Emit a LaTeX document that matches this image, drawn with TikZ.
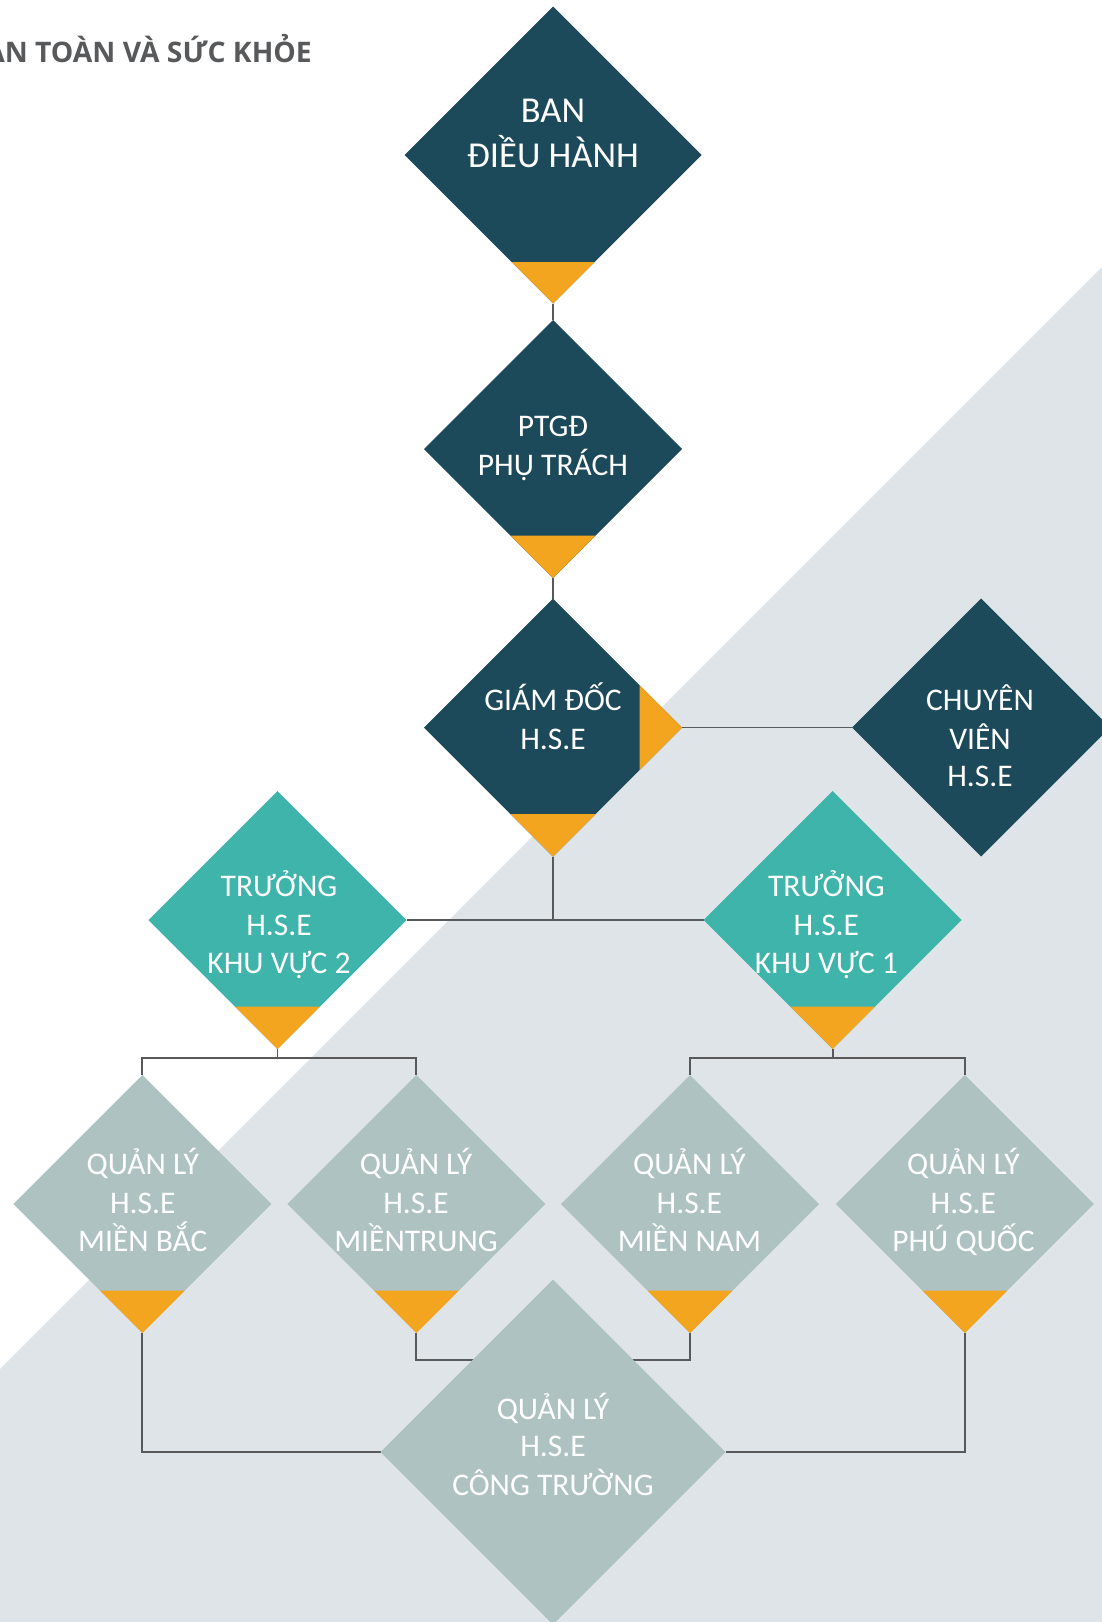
\documentclass[tikz,border=0pt]{standalone}
\usepackage{fontspec}
\setmainfont{Carlito}
\newfontfamily\ttlfont{Open Sans}
\usetikzlibrary{shapes.geometric,calc,backgrounds}
\definecolor{dkc}{HTML}{1D4A5A}
\definecolor{tlc}{HTML}{3EB4AA}
\definecolor{grc}{HTML}{ADC2C1}
\definecolor{orc}{HTML}{F3A520}
\definecolor{bgc}{HTML}{DFE4E8}
\definecolor{lnc}{HTML}{58595B}
\definecolor{tic}{HTML}{58595B}
\newcommand\orgbot[2]{\fill[orc] (#1.south) -- ++(-#2,-#2) -- ++(2*#2,0) -- cycle;}
\begin{document}
\begin{tikzpicture}[x=1pt,y=-1pt,
  dmd/.style={diamond, aspect=1, inner sep=0pt, outer sep=0pt, minimum size=#1},
  dmd/.default=258,
  ln/.style={draw=lnc, line width=1.9pt},
  lb/.style={text=white, anchor=base, inner sep=0pt, font=\fontsize{31.5}{31.5}\selectfont},
  lbb/.style={lb, font=\fontsize{36.5}{36.5}\selectfont}]
\useasboundingbox (0,0) rectangle (1102,1622);
\clip (0,0) rectangle (1102,1622);

% title
\node[anchor=base east, text=tic, inner sep=0pt, font=\ttlfont\bfseries\fontsize{28.3}{28.3}\selectfont] (title) at (312,62) {AN TOÀN VÀ SỨC KHỎE};

% diamonds
\node[dmd=297, fill=dkc] (ban) at (553,155) {};
\node[dmd, fill=dkc] (ptgd) at (553,449) {};
\node[dmd, fill=dkc] (gd) at (553,727.5) {};
\node[dmd, fill=dkc] (cv) at (981,727.5) {};
\node[dmd, fill=tlc] (kv2) at (277.5,920) {};
\node[dmd, fill=tlc] (kv1) at (832.7,920) {};
\node[dmd, fill=grc] (mb) at (142.3,1204) {};
\node[dmd, fill=grc] (mt) at (416.3,1204) {};
\node[dmd, fill=grc] (mn) at (690,1204) {};
\node[dmd, fill=grc] (pq) at (964.8,1204) {};
\node[dmd=345, fill=grc] (ct) at (553,1452) {};

% orange tips
\orgbot{ban}{41.5}
\orgbot{ptgd}{42.5}
\orgbot{gd}{42.5}
\fill[orc] (gd.east) -- ++(-42.5,-42.5) -- ++(0,85) -- cycle;
\orgbot{kv2}{42.5}
\orgbot{kv1}{42.5}
\orgbot{mb}{42.5}
\orgbot{mt}{42.5}
\orgbot{mn}{42.5}
\orgbot{pq}{42.5}

% background and connectors
\begin{pgfonlayer}{background}
\fill[bgc] (1102,267) -- (1102,1622) -- (0,1622) -- (0,1369) -- cycle;
\draw[ln] (ban.south) -- (ptgd.north);
\draw[ln] (ptgd.south) -- (gd.north);
\draw[ln] (gd.east) -- (cv.west);
\draw[ln] (kv2.east) -- (kv1.west);
\draw[ln] (gd.south) -- (gd.south |- kv2.east);
\coordinate (b2) at ($(kv2.south)+(0,8.7)$);
\coordinate (b1) at ($(kv1.south)+(0,8.7)$);
\coordinate (b3) at ($(mt.south)+(0,27)$);
\draw[ln] (kv2.south) -- (b2);
\draw[ln] (mb.north) |- (b2 -| mt.north) -- (mt.north);
\draw[ln] (kv1.south) -- (b1);
\draw[ln] (mn.north) |- (b1 -| pq.north) -- (pq.north);
\draw[ln] (mt.south) |- (b3 -| mn.south) -- (mn.south);
\draw[ln] (mb.south) |- (ct.west);
\draw[ln] (pq.south) |- (ct.east);
\end{pgfonlayer}

% labels
\node[lbb] (t1a) at (553,122) {BAN};
\node[lbb] (t1b) at (553,167) {ĐIỀU HÀNH};
\node[lb] (t2a) at (553,436) {PTGĐ};
\node[lb] (t2b) at (553,475) {PHỤ TRÁCH};
\node[lb] (t3a) at (553,710.7) {GIÁM ĐỐC};
\node[lb] (t3b) at (553,749.3) {H.S.E};
\node[lb] (t4a) at (980,710) {CHUYÊN};
\node[lb] (t4b) at (980,749.3) {VIÊN};
\node[lb] (t4c) at (980,786.7) {H.S.E};
\node[lb] (t5a) at (279,896.5) {TRƯỞNG};
\node[lb] (t5b) at (279,935.5) {H.S.E};
\node[lb] (t5c) at (279,973.3) {KHU VỰC 2};
\node[lb] (t6a) at (826.4,896.5) {TRƯỞNG};
\node[lb] (t6b) at (826.4,935.5) {H.S.E};
\node[lb] (t6c) at (826.4,973.3) {KHU VỰC 1};
\node[lb] (t7a) at (142.8,1174) {QUẢN LÝ};
\node[lb] (t7b) at (142.8,1213.3) {H.S.E};
\node[lb] (t7c) at (142.8,1251) {MIỀN BẮC};
\node[lb] (t8a) at (416,1174) {QUẢN LÝ};
\node[lb] (t8b) at (416,1213.3) {H.S.E};
\node[lb] (t8c) at (416,1251) {MIỀNTRUNG};
\node[lb] (t9a) at (689.4,1174) {QUẢN LÝ};
\node[lb] (t9b) at (689.4,1213.3) {H.S.E};
\node[lb] (t9c) at (689.4,1251) {MIỀN NAM};
\node[lb] (t10a) at (963.4,1174) {QUẢN LÝ};
\node[lb] (t10b) at (963.4,1213.3) {H.S.E};
\node[lb] (t10c) at (963.4,1251) {PHÚ QUỐC};
\node[lb] (t11a) at (553,1419) {QUẢN LÝ};
\node[lb] (t11b) at (553,1456.7) {H.S.E};
\node[lb] (t11c) at (553,1495) {CÔNG TRƯỜNG};
\end{tikzpicture}
\end{document}
